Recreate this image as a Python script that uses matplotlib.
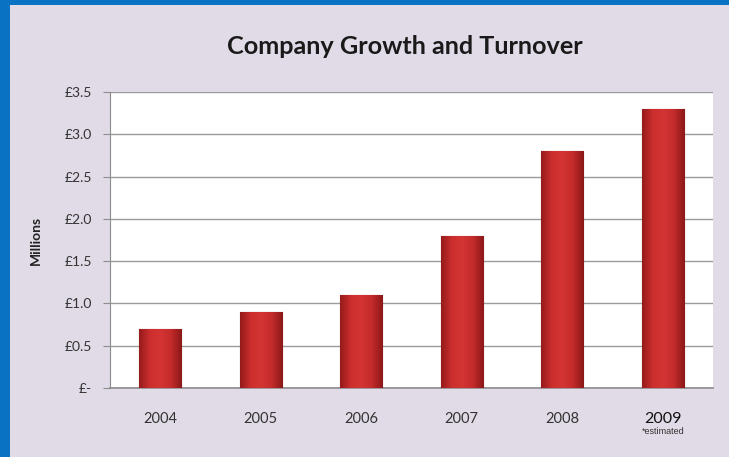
import matplotlib
matplotlib.use('Agg')
import matplotlib.pyplot as plt
import numpy as np
from matplotlib.patches import Rectangle
from matplotlib.colors import LinearSegmentedColormap

years = ['2004', '2005', '2006', '2007', '2008', '2009']
turnover = [0.7, 0.9, 1.1, 1.8, 2.8, 3.3]  # millions GBP
y_ticks = [0, 0.5, 1.0, 1.5, 2.0, 2.5, 3.0, 3.5]
y_tick_labels = ['£-', '£0.5', '£1.0', '£1.5', '£2.0', '£2.5', '£3.0', '£3.5']

plt.rcParams['font.family'] = ['Lato', 'DejaVu Sans']

fig = plt.figure(figsize=(7.29, 4.57), dpi=100, facecolor='#E1DBE7')
# blue frame on the left and top
fig.patches.append(Rectangle((0, 0), 10 / 729, 1, transform=fig.transFigure,
                             facecolor='#0A72C2', edgecolor='none', zorder=0))
fig.patches.append(Rectangle((0, 1 - 5 / 457), 1, 5 / 457, transform=fig.transFigure,
                             facecolor='#0A72C2', edgecolor='none', zorder=0))

ax = fig.add_axes([110 / 729, 1 - 388 / 457, 603 / 729, 296 / 457])
ax.set_facecolor('white')

x = np.arange(len(years))
bars = ax.bar(x, turnover, width=0.42, color='#C42A2C', edgecolor='#6E1212',
              linewidth=0.8, zorder=3)

# shaded look on each bar
cmap = LinearSegmentedColormap.from_list('barshade', ['#961B1B', '#CC2E2E', '#D43434', '#C42B2B', '#8C1818'])
grad = np.linspace(0, 1, 64).reshape(1, -1)
for b in bars:
    bx, by = b.get_x(), b.get_y()
    im = ax.imshow(grad, cmap=cmap, aspect='auto', zorder=3.5,
                   extent=(bx, bx + b.get_width(), by, by + b.get_height()))
    im.set_clip_path(b)

ax.set_xlim(-0.5, len(years) - 0.5)
ax.set_ylim(0, 3.5)
ax.set_yticks(y_ticks)
ax.set_yticklabels(y_tick_labels, fontsize=10, color='#333333')
ax.set_xticks(x)
ax.set_xticklabels(years, fontsize=10.5, color='#333333')
last = ax.get_xticklabels()[-1]
last.set_fontsize(11.5)
last.set_color('#111111')
ax.tick_params(axis='y', length=5, color='#8C8C8C', pad=8)
ax.tick_params(axis='x', length=0, pad=17)
ax.grid(axis='y', color='#9A9A9A', linewidth=1.0, zorder=0)
ax.set_axisbelow(True)
for s in ['top', 'right']:
    ax.spines[s].set_visible(False)
ax.spines['left'].set_color('#8C8C8C')
ax.spines['bottom'].set_color('#8C8C8C')
ax.spines['bottom'].set_linewidth(1.2)

ax.text(5, -0.46, '*estimated', fontsize=6.5, ha='center', va='top', color='#333333',
        family=['Liberation Sans', 'DejaVu Sans'])

ax.set_ylabel('Millions', fontsize=10, fontweight='bold', color='#222222', labelpad=16)
fig.text(405 / 729, 1 - 47 / 457, 'Company Growth and Turnover', fontsize=18.2,
         fontweight='bold', ha='center', va='center', color='#1A1A1A')

plt.savefig('out.png', dpi=100, facecolor=fig.get_facecolor())
